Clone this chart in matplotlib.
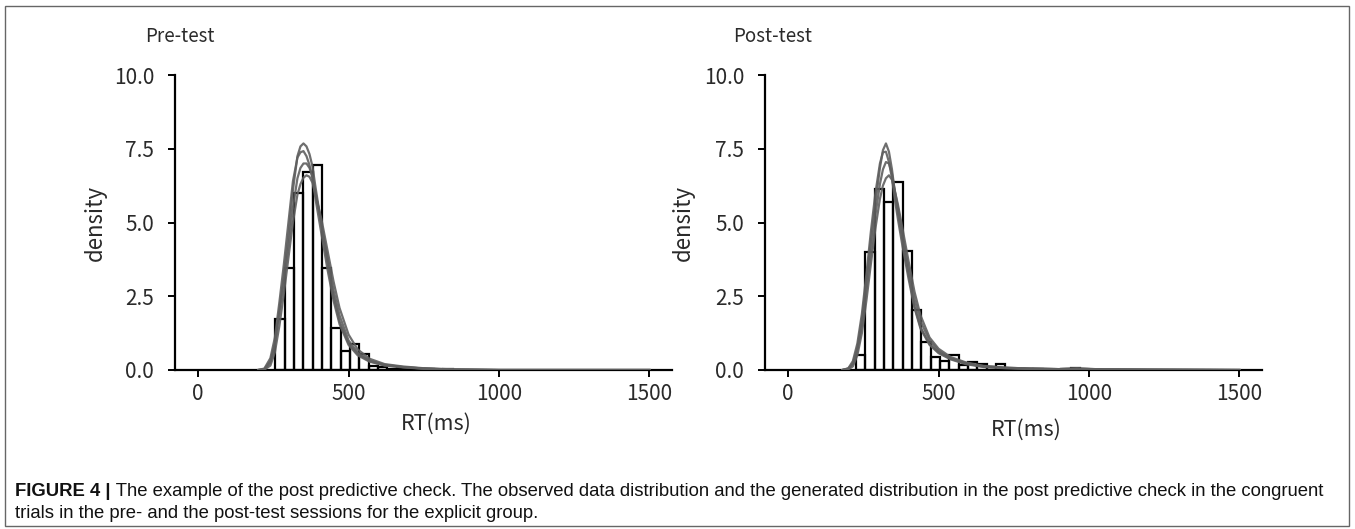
import numpy as np
import matplotlib
matplotlib.use("Agg")
import matplotlib.pyplot as plt
from matplotlib.patches import Rectangle

# histogram of observed RTs (density x 1000), bins of 31 ms
bin_width = 31
pre_bin_start = 257
pre_hist = [1.73, 3.45, 6.0, 6.72, 6.95, 3.45, 1.41, 0.64, 0.87, 0.53,
            0.12, 0.1, 0.05, 0.06, 0.03, 0.02, 0.02, 0.01, 0.04]
post_bin_start = 226
post_hist = [0.51, 4.01, 6.14, 5.7, 6.36, 4.04, 2.03, 0.94, 0.45, 0.32,
             0.5, 0.17, 0.28, 0.2, 0.1, 0.22, 0.05, 0.03, 0.02, 0.02,
             0.0, 0.01, 0.02, 0.08]

# generated (posterior predictive) densities
pre_x = [200, 220, 240, 255, 270, 285, 300, 315, 330, 340, 350, 360, 370,
         380, 390, 410, 430, 450, 470, 500, 530, 570, 620, 680, 750, 850,
         1000, 1500]
pre_curves = [
    [0, 0.02, 0.25, 0.85, 2.05, 3.2, 4.55, 6.1, 7.25, 7.58, 7.68, 7.58, 7.32,
     6.9, 6.2, 4.9, 3.65, 2.5, 1.65, 0.9, 0.55, 0.3, 0.15, 0.09, 0.04, 0.01,
     0, 0],
    [0, 0.03, 0.3, 0.9, 1.95, 3.0, 4.2, 5.5, 6.5, 6.85, 7.0, 7.0, 6.85,
     6.55, 6.0, 4.95, 3.8, 2.7, 1.85, 1.0, 0.6, 0.32, 0.18, 0.1, 0.05, 0.02,
     0, 0],
    [0, 0.01, 0.15, 0.6, 1.5, 2.6, 3.8, 5.0, 5.95, 6.3, 6.52, 6.6, 6.55,
     6.35, 5.95, 5.1, 4.05, 3.0, 2.1, 1.2, 0.7, 0.38, 0.2, 0.12, 0.06, 0.02,
     0, 0],
    [0, 0.05, 0.4, 1.1, 2.3, 3.6, 5.0, 6.4, 7.2, 7.38, 7.42, 7.25, 6.95,
     6.5, 5.8, 4.6, 3.4, 2.35, 1.55, 0.85, 0.5, 0.28, 0.16, 0.1, 0.05, 0.01,
     0, 0],
]
post_x = [180, 200, 215, 230, 245, 260, 275, 290, 305, 315, 325, 335, 345,
          355, 365, 380, 400, 420, 440, 470, 500, 540, 590, 650, 720, 800,
          900, 960, 1050, 1200, 1500]
post_curves = [
    [0, 0.05, 0.22, 0.75, 1.7, 3.0, 4.4, 5.65, 6.85, 7.45, 7.68, 7.4, 6.8,
     6.0, 5.3, 4.4, 3.25, 2.15, 1.45, 0.88, 0.6, 0.38, 0.22, 0.11, 0.07,
     0.04, 0.03, 0.04, 0.02, 0.01, 0],
    [0, 0.04, 0.2, 0.65, 1.5, 2.7, 4.0, 5.25, 6.3, 6.8, 7.05, 7.0, 6.65,
     6.05, 5.5, 4.6, 3.45, 2.4, 1.65, 1.0, 0.65, 0.4, 0.24, 0.13, 0.08,
     0.05, 0.03, 0.05, 0.02, 0.01, 0],
    [0, 0.02, 0.12, 0.5, 1.25, 2.35, 3.6, 4.8, 5.8, 6.25, 6.5, 6.6, 6.45,
     6.05, 5.6, 4.8, 3.7, 2.65, 1.85, 1.1, 0.72, 0.44, 0.26, 0.14, 0.08,
     0.05, 0.03, 0.04, 0.02, 0.01, 0],
    [0, 0.06, 0.3, 0.9, 1.9, 3.25, 4.7, 6.0, 7.0, 7.38, 7.4, 7.05, 6.5,
     5.75, 5.1, 4.2, 3.1, 2.1, 1.4, 0.85, 0.57, 0.36, 0.2, 0.1, 0.06,
     0.04, 0.03, 0.05, 0.02, 0.01, 0],
]

panel_titles = ["Pre-test", "Post-test"]
x_ticks = [0, 500, 1000, 1500]
y_ticks = [0.0, 2.5, 5.0, 7.5, 10.0]

cap_bold = "FIGURE 4 |"
cap_line1 = (" The example of the post predictive check. The observed data "
             "distribution and the generated distribution in the post "
             "predictive check in the congruent")
cap_line2 = "trials in the pre- and the post-test sessions for the explicit group."

jp = ["Noto Sans CJK JP", "DejaVu Sans"]
cap_font = "Liberation Sans"
txt_col = "#2a2a2a"

W, H = 1355, 529
fig = plt.figure(figsize=(W / 100, H / 100), dpi=100)

fig.patches.append(Rectangle((5 / W, 3 / H), 1344 / W, 520 / H,
                             transform=fig.transFigure, fill=False,
                             edgecolor="#666666", lw=1.0))

panels = [
    (175, pre_bin_start, pre_hist, pre_x, pre_curves, 145),
    (765, post_bin_start, post_hist, post_x, post_curves, 733),
]
for i, (x0, start, hist, cx, curves, tx) in enumerate(panels):
    ax = fig.add_axes([x0 / W, (H - 370) / H, 497 / W, 295 / H])
    edges = start + bin_width * np.arange(len(hist))
    ax.bar(edges, hist, width=bin_width, align="edge", fill=False,
           edgecolor="black", lw=1.6, zorder=2)
    for c in curves:
        ax.plot(cx, c, color="#5f5f5f", lw=1.6, alpha=0.9, zorder=3)
    ax.set_xlim(-77, 1575)
    ax.set_ylim(0, 10)
    ax.set_xticks(x_ticks)
    ax.set_yticks(y_ticks)
    ax.set_yticklabels(["%.1f" % v for v in y_ticks])
    for s in ["top", "right"]:
        ax.spines[s].set_visible(False)
    for s in ["left", "bottom"]:
        ax.spines[s].set_linewidth(1.6)
    ax.tick_params(axis="both", direction="out", length=5, width=1.4,
                   labelsize=15, labelcolor=txt_col)
    ax.tick_params(axis="y", pad=10)
    ax.tick_params(axis="x", pad=4)
    for lab in ax.get_xticklabels() + ax.get_yticklabels():
        lab.set_family(jp)
    ax.set_xlabel("RT(ms)", family=jp, fontsize=15.5, color=txt_col)
    ax.set_ylabel("density", family=jp, fontsize=16, color=txt_col)
    ax.xaxis.set_label_coords(0.525, -0.146 - 0.02 * i)
    ax.yaxis.set_label_coords(-0.137 - 0.004 * i, 0.5)
    fig.text(tx / W, 1 - 37 / H, panel_titles[i], family=jp, fontsize=13.5,
             va="center", ha="left", color=txt_col)

t1 = fig.text(15 / W, 1 - 492 / H, cap_bold, family=cap_font,
              weight="bold", fontsize=13.3, va="center", color="#111111")
fig.canvas.draw()
bb = t1.get_window_extent()
fig.text(bb.x1 / W, 1 - 492 / H, cap_line1, family=cap_font, fontsize=13.3,
         va="center", color="#111111")
fig.text(15 / W, 1 - 513 / H, cap_line2, family=cap_font, fontsize=13.3,
         va="center", color="#111111")

fig.savefig("out.png", dpi=100)
